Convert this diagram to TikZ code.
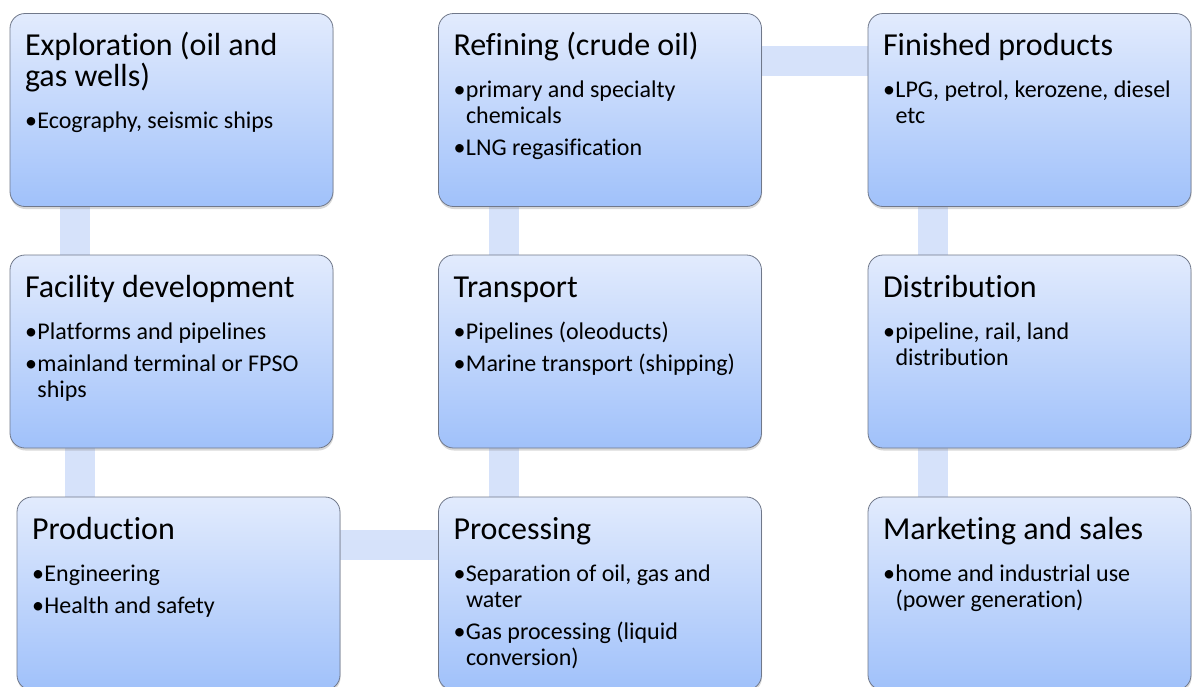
\documentclass[tikz,border=0pt]{standalone}
\usepackage{fontspec}
\setmainfont{Carlito}[Ligatures=NoCommon]
\usetikzlibrary{shadows, backgrounds}

\definecolor{stagetop}{RGB}{226,235,253}
\definecolor{stagebot}{RGB}{160,193,250}
\definecolor{stageline}{RGB}{112,120,138}
\definecolor{linkblue}{RGB}{214,226,250}

% 箱の中身: 見出し + 箇条書き
\newcommand{\stagebody}[2]{%
  \parbox[t][193pt][t]{323pt}{\raggedright\leftskip=15pt\parindent=0pt
    {\fontsize{32}{31}\selectfont\rule{0pt}{42pt}#1\par}%
    \vspace{10pt}%
    \fontsize{24}{26}\selectfont\parskip=6pt #2}}
\newcommand{\stageitem}[1]{\par\noindent\hangindent=12.5pt\hangafter=1%
  \makebox[12.5pt][l]{\textbullet}#1}

\begin{document}
\begin{tikzpicture}[x=1pt, y=-1pt,
    stage/.style={draw=stageline, line width=0.8pt, rounded corners=15pt,
      top color=stagetop, bottom color=stagebot, inner sep=0pt,
      drop shadow={shadow xshift=0.5pt, shadow yshift=-2.5pt, opacity=0.3}},
    link/.style={line width=30pt, draw=linkblue}]
    \useasboundingbox (0,0) rectangle (1195,686);

    % 1段目
    \node[stage] (explor) at (171.5,110) {\stagebody{Exploration (oil and\newline gas wells)}{%
        \stageitem{Ecography, seismic ships}}};
    \node[stage] (refin) at (600,110) {\stagebody{Refining (crude oil)}{%
        \stageitem{primary and specialty\newline chemicals}
        \stageitem{LNG regasification}}};
    \node[stage] (finish) at (1029.5,110) {\stagebody{Finished products}{%
        \stageitem{LPG, petrol, kerozene, diesel\newline etc}}};

    % 2段目
    \node[stage] (facil) at (171.5,351.5) {\stagebody{Facility development}{%
        \stageitem{Platforms and pipelines}
        \stageitem{mainland terminal or FPSO\newline ships}}};
    \node[stage] (transp) at (600,351.5) {\stagebody{Transport}{%
        \stageitem{Pipelines (oleoducts)}
        \stageitem{Marine transport (shipping)}}};
    \node[stage] (distrib) at (1029.5,351.5) {\stagebody{Distribution}{%
        \stageitem{pipeline, rail, land\newline distribution}}};

    % 3段目 (下は切れている)
    \node[stage] (prod) at (178.5,593.5) {\stagebody{Production}{%
        \stageitem{Engineering}
        \stageitem{Health and safety}}};
    \node[stage] (proc) at (600,593.5) {\stagebody{Processing}{%
        \stageitem{Separation of oil, gas and\newline water}
        \stageitem{Gas processing (liquid\newline conversion)}}};
    \node[stage] (market) at (1029.5,593.5) {\stagebody{Marketing and sales}{%
        \stageitem{home and industrial use\newline (power generation)}}};

    % つなぎの帯
    \begin{scope}[on background layer]
        \fill[white] (0,0) rectangle (1195,686);
        \draw[link] ([xshift=65pt]explor.south west) -- ([xshift=65pt]facil.north west);
        \draw[link] ([xshift=70pt]facil.south west) -- ([xshift=63pt]prod.north west);
        \draw[link] ([yshift=-48pt]prod.north east) -- ([yshift=-48pt]proc.north west);
        \draw[link] ([xshift=65.5pt]proc.north west) -- ([xshift=65.5pt]transp.south west);
        \draw[link] ([xshift=65.5pt]transp.north west) -- ([xshift=65.5pt]refin.south west);
        \draw[link] ([yshift=-48pt]refin.north east) -- ([yshift=-48pt]finish.north west);
        \draw[link] ([xshift=65pt]finish.south west) -- ([xshift=65pt]distrib.north west);
        \draw[link] ([xshift=65pt]distrib.south west) -- ([xshift=65pt]market.north west);
    \end{scope}
\end{tikzpicture}
\end{document}
